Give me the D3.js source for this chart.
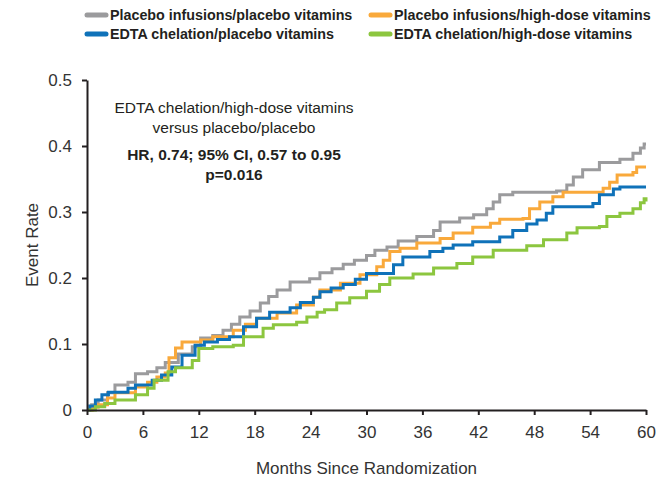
<!DOCTYPE html>
<html>
<head>
<meta charset="utf-8">
<script src="https://cdn.jsdelivr.net/npm/d3@7"></script>
<style>
  body { margin: 0; background: #fff; }
  svg { display: block; font-family: "Liberation Sans", Arial, sans-serif; }
</style>
</head>
<body>
<svg id="chart" width="664" height="478"></svg>
<script>
// series names, colours in legend order
var seriesNames = ["Placebo infusions/placebo vitamins", "EDTA chelation/placebo vitamins",
                   "Placebo infusions/high-dose vitamins", "EDTA chelation/high-dose vitamins"];
var seriesColors = ["#9b9b9d", "#0f72b9", "#f9a93b", "#8cc63f"];

var xTicks = [0, 6, 12, 18, 24, 30, 36, 42, 48, 54, 60];
var yTicks = [0, 0.1, 0.2, 0.3, 0.4, 0.5];

// [month, cumulative event rate]
var placeboPlacebo = [
  [0,0],[0.5,0.008],[1.2,0.015],[2.2,0.026],[3,0.038],[4.4,0.042],[5.2,0.055],[6.5,0.058],
  [7.5,0.064],[8.4,0.072],[9.8,0.085],[11.3,0.096],[12.2,0.109],[13.5,0.113],[14.6,0.121],
  [15.5,0.13],[16.4,0.141],[17.5,0.15],[18.6,0.162],[19.5,0.172],[20.4,0.182],[21.8,0.194],
  [23.9,0.199],[25,0.208],[26.3,0.214],[27.5,0.221],[28.7,0.227],[30,0.234],[30.9,0.242],
  [32.2,0.247],[33.4,0.256],[35.4,0.263],[37.2,0.272],[37.9,0.285],[40,0.291],[41.5,0.296],
  [42.9,0.305],[43.6,0.315],[44.3,0.326],[45.7,0.33],[50.4,0.332],[51.5,0.341],[52.2,0.353],
  [53.2,0.364],[55,0.375],[57.2,0.38],[58.6,0.389],[59.4,0.397],[59.8,0.403],[60,0.403]
];
var edtaPlacebo = [
  [0,0],[0.3,0.006],[0.9,0.015],[1.6,0.023],[2.3,0.027],[4.4,0.033],[5.2,0.038],[7,0.045],
  [8,0.053],[9.1,0.065],[10.2,0.083],[11.6,0.098],[12.6,0.103],[14,0.107],[15.3,0.111],
  [16.8,0.126],[18.2,0.139],[19.6,0.148],[21.8,0.155],[22.9,0.163],[24.3,0.171],[25,0.179],
  [26.2,0.185],[27.5,0.19],[28.8,0.198],[30,0.207],[32.9,0.22],[33.9,0.232],[36.8,0.24],
  [38.2,0.245],[39.3,0.25],[41.4,0.255],[44.3,0.262],[45.7,0.272],[47.2,0.282],[48.3,0.288],
  [49.3,0.298],[50,0.308],[54.3,0.313],[55,0.326],[56.5,0.335],[57.2,0.338],[60,0.338]
];
var placeboHighDose = [
  [0,0],[0.6,0.004],[1.2,0.008],[2.2,0.018],[3,0.026],[5.2,0.035],[6.5,0.042],[7.5,0.05],
  [8.4,0.056],[8.8,0.079],[9.5,0.094],[10.2,0.103],[12.2,0.106],[13.5,0.111],[15.7,0.121],
  [17,0.13],[18.2,0.139],[20.4,0.147],[22.5,0.159],[24.3,0.171],[25,0.182],[27.2,0.192],
  [29.3,0.205],[31.1,0.217],[31.8,0.227],[32.5,0.24],[33.6,0.245],[35.4,0.253],[37.9,0.26],
  [39.3,0.268],[41.4,0.277],[43.3,0.283],[44.3,0.289],[46.8,0.29],[47.5,0.305],[48.6,0.315],
  [50,0.323],[51.1,0.33],[55.4,0.336],[56.1,0.345],[56.9,0.356],[58.6,0.36],[59,0.368],[60,0.368]
];
var edtaHighDose = [
  [0,0],[0.9,0.005],[1.9,0.01],[3,0.015],[5.2,0.023],[6.5,0.033],[7.2,0.045],[8.7,0.058],
  [9.5,0.064],[11.3,0.075],[12,0.093],[13.5,0.096],[15.7,0.098],[16.8,0.111],[18.9,0.124],
  [20,0.129],[22.5,0.133],[23.6,0.141],[24.7,0.148],[25.5,0.152],[26.8,0.162],[28.2,0.17],
  [30,0.18],[31.4,0.19],[32.5,0.2],[35,0.206],[37.2,0.215],[39.7,0.222],[41.4,0.232],
  [43.6,0.242],[47.2,0.249],[49,0.258],[51.5,0.268],[52.6,0.276],[55,0.278],[55.8,0.293],
  [57.2,0.298],[58.6,0.305],[59.4,0.314],[59.8,0.32],[60,0.316]
];

var allSeries = [placeboPlacebo, placeboHighDose, edtaPlacebo, edtaHighDose];
var drawColors = [seriesColors[0], seriesColors[2], seriesColors[1], seriesColors[3]];

var svg = d3.select("#chart");
var margin = {left: 87, right: 18, top: 80, bottom: 68};
var W = 664, H = 478;

var x = d3.scaleLinear().domain([0, 60]).range([margin.left, W - margin.right]);
var y = d3.scaleLinear().domain([0, 0.5]).range([H - margin.bottom, margin.top]);

/**
Step lines
*/
var line = d3.line()
  .x(function(d){ return x(d[0]); })
  .y(function(d){ return y(d[1]); })
  .curve(d3.curveStepAfter);

svg.append("g").selectAll("path")
  .data(allSeries)
  .enter().append("path")
  .attr("d", line)
  .style("fill", "none")
  .style("stroke", function(d,i){ return drawColors[i]; })
  .style("stroke-width", "3px");

/**
Axes
*/
var xAxis = svg.append("g")
  .attr("transform", "translate(0," + y(0) + ")")
  .call(d3.axisBottom(x).tickValues(xTicks).tickSize(5).tickSizeOuter(0).tickPadding(11));
var yAxis = svg.append("g")
  .attr("transform", "translate(" + x(0) + ",0)")
  .call(d3.axisLeft(y).tickValues(yTicks).tickSize(5).tickSizeOuter(0).tickPadding(10)
    .tickFormat(function(d){ return d === 0 ? "0" : d3.format(".1f")(d); }));

[xAxis, yAxis].forEach(function(a){
  a.select(".domain").style("stroke", "#231f20").style("stroke-width", "2px");
  a.selectAll(".tick line").style("stroke", "#231f20").style("stroke-width", "2px");
  a.selectAll(".tick text").style("font-size", "17px").style("fill", "#333")
    .style("font-family", "'Liberation Sans', Arial, sans-serif");
});

svg.append("text")
  .attr("x", (x(0) + x(60)) / 2).attr("y", 474)
  .attr("text-anchor", "middle")
  .style("font-size", "17px").style("fill", "#333")
  .text("Months Since Randomization");

svg.append("text")
  .attr("transform", "translate(38," + y(0.25) + ") rotate(-90)")
  .attr("text-anchor", "middle")
  .style("font-size", "17px").style("fill", "#333")
  .text("Event Rate");

/**
Annotation
*/
var annot = [
  {t: "EDTA chelation/high-dose vitamins", y: 113, bold: false},
  {t: "versus placebo/placebo", y: 133, bold: false},
  {t: "HR, 0.74; 95% CI, 0.57 to 0.95", y: 160, bold: true},
  {t: "p=0.016", y: 180, bold: true}
];
svg.append("g").selectAll("text")
  .data(annot)
  .enter().append("text")
  .attr("x", 234).attr("y", function(d){ return d.y; })
  .attr("text-anchor", "middle")
  .style("font-size", "15.5px")
  .style("font-weight", function(d){ return d.bold ? "bold" : "normal"; })
  .style("fill", "#231f20")
  .text(function(d){ return d.t; });

/**
Legend
*/
var legendPos = [[85, 15], [85, 34], [369, 15], [369, 34]];
var legend = svg.append("g").selectAll("g")
  .data(seriesNames)
  .enter().append("g")
  .attr("transform", function(d,i){ return "translate(" + legendPos[i][0] + "," + legendPos[i][1] + ")"; });

legend.append("line")
  .attr("x1", 2).attr("x2", 21).attr("y1", 0).attr("y2", 0)
  .style("stroke", function(d,i){ return seriesColors[i]; })
  .style("stroke-width", "5px")
  .style("stroke-linecap", "round");

legend.append("text")
  .attr("x", 25).attr("y", 5)
  .style("font-size", "14.3px").style("font-weight", "bold").style("fill", "#231f20")
  .text(function(d){ return d; });
</script>
</body>
</html>
